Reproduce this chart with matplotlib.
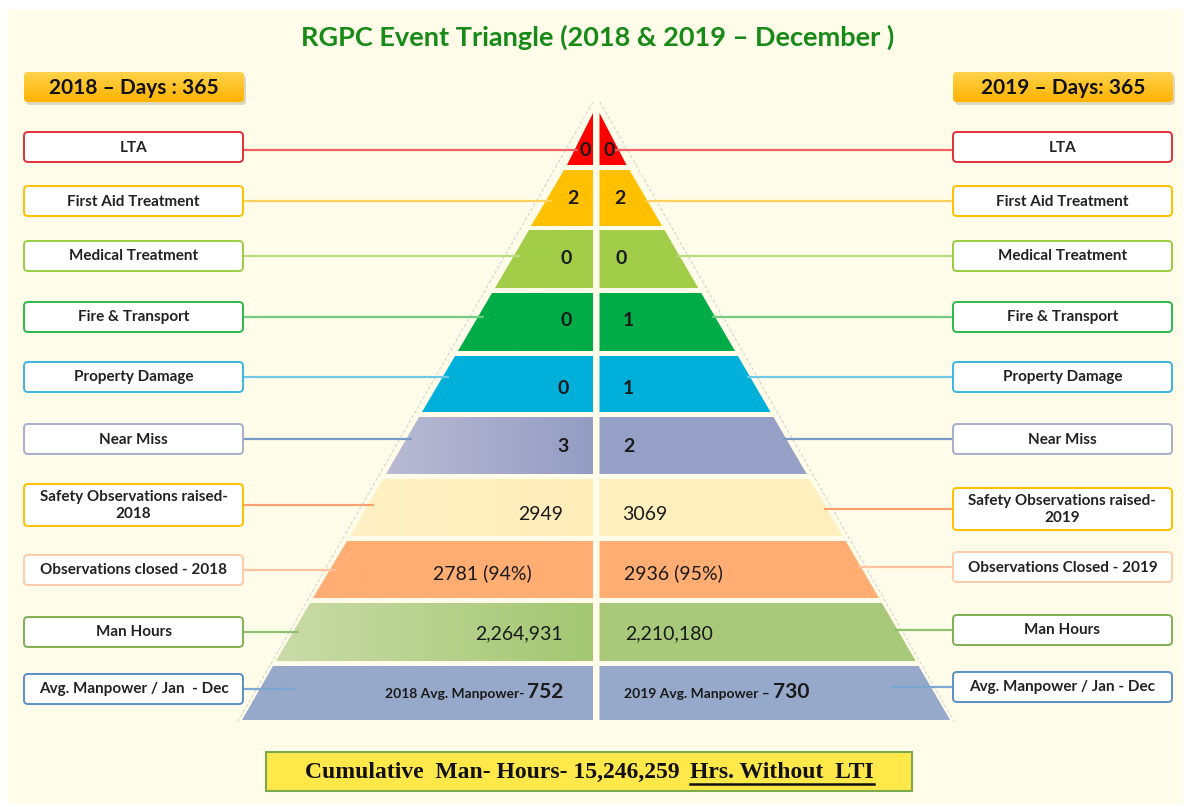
import matplotlib
matplotlib.use("Agg")
import matplotlib.pyplot as plt
from matplotlib.patches import Polygon, FancyBboxPatch, Rectangle
import matplotlib.colors as mcolors
import numpy as np

# ---------------- data ----------------
title = "RGPC Event Triangle (2018 & 2019 \u2013 December )"
header_2018 = "2018 \u2013 Days : 365"
header_2019 = "2019 \u2013 Days: 365"
labels_2018 = ["LTA", "First Aid Treatment", "Medical Treatment", "Fire & Transport",
               "Property Damage", "Near Miss", "Safety Observations raised-\n2018",
               "Observations closed - 2018", "Man Hours", "Avg. Manpower / Jan  - Dec"]
labels_2019 = ["LTA", "First Aid Treatment", "Medical Treatment", "Fire & Transport",
               "Property Damage", "Near Miss", "Safety Observations raised-\n2019",
               "Observations Closed - 2019", "Man Hours", "Avg. Manpower / Jan - Dec"]
values_2018 = ["0", "2", "0", "0", "0", "3", "2949", "2781 (94%)", "2,264,931", "752"]
values_2019 = ["0", "2", "0", "1", "1", "2", "3069", "2936 (95%)", "2,210,180", "730"]
manpower_prefix_2018 = "2018 Avg. Manpower- "
manpower_prefix_2019 = "2019 Avg. Manpower \u2013 "
footer_main = "Cumulative  Man- Hours- 15,246,259"
footer_underlined = "Hrs. Without  LTI"

# band colours (left-start, left-end gradient; right)
band_left_c1 = ["#FF0000", "#FFC000", "#A2CD48", "#00AC47", "#00B0DA", "#B9BBD2", "#FFF1C4", "#FFAD72", "#CADBA8", "#97A9CB"]
band_left_c2 = ["#FF0000", "#FFC000", "#A2CD48", "#00AC47", "#00B0DA", "#949CC4", "#FFEDBA", "#FFAD72", "#A3C772", "#97A9CB"]
band_right = ["#FF0000", "#FFC000", "#A2CD48", "#00AC47", "#00B0DA", "#96A0C6", "#FFEFBE", "#FFAD72", "#A8C97A", "#97A9CB"]
border_colors = ["#E0303A", "#FFC000", "#9BCB45", "#2DB84B", "#3BB5E0", "#A6AECC", "#FFC000", "#FFCBAA", "#7FB052", "#5B8FC4"]
line_colors = ["#F06060", "#FFD060", "#B8DC80", "#70CC80", "#70C8E8", "#7898C8", "#FFA070", "#FFC0A0", "#90C070", "#7AA8D0"]

# ---------------- layout ----------------
W, H = 1189, 807
fig = plt.figure(figsize=(W / 100, H / 100), dpi=100)
fig.patch.set_facecolor("white")
ax = fig.add_axes([0, 0, 1, 1])
ax.set_xlim(0, W)
ax.set_ylim(H, 0)
ax.axis("off")

FONT = ["Lato", "DejaVu Sans"]
SERIF = ["Liberation Serif", "DejaVu Serif"]

ax.add_patch(Rectangle((8, 9), 1175, 795, facecolor="#FFFDE9", edgecolor="none", zorder=0))

ax.text(598, 37, title, ha="center", va="center", fontsize=19.5, fontweight="bold",
        color="#178A17", family=FONT)


def gradient_fill(patch, c1, c2, horizontal=True, zorder=2):
    ax.add_patch(patch)
    patch.set_facecolor("none")
    patch.set_zorder(zorder + 0.1)
    x0, y0, x1, y1 = patch.get_path().get_extents(patch.get_transform() - ax.transData).extents
    a = np.array(mcolors.to_rgb(c1))
    b = np.array(mcolors.to_rgb(c2))
    t = np.linspace(0, 1, 256)
    grad = a[None, :] * (1 - t[:, None]) + b[None, :] * t[:, None]
    img = grad[None, :, :] if horizontal else grad[:, None, :]
    im = ax.imshow(img, extent=(x0, x1, y1, y0), origin="upper", aspect="auto",
                   interpolation="bilinear", zorder=zorder)
    im.set_clip_path(patch)


# header boxes
for (hx, htxt) in [(24, header_2018), (953, header_2019)]:
    shadow = FancyBboxPatch((hx + 2, 75), 220, 30, boxstyle="round,pad=0,rounding_size=4",
                            facecolor="#C8C0A0", edgecolor="none", alpha=0.6, zorder=1)
    ax.add_patch(shadow)
    hb = FancyBboxPatch((hx, 72), 220, 30, boxstyle="round,pad=0,rounding_size=4",
                        edgecolor="none", linewidth=0)
    gradient_fill(hb, "#FFD24C", "#FFB300", horizontal=False, zorder=2)
    ax.text(hx + 110, 87.5, htxt, ha="center", va="center", fontsize=15, fontweight="bold",
            color="#111111", family=FONT, zorder=4)

# pyramid geometry
ref_y = 351.0
ref_xl, ref_xr = 458.0, 735.0
slope_l, slope_r = 0.586, 0.583
gap_l, gap_r = 593.0, 599.5
band_top = [113, 170, 230, 293, 356, 417, 479, 541, 603, 666]
band_bot = [165, 226, 288, 351, 412, 474, 536, 598, 661, 720]


def xl(y):
    return ref_xl - (y - ref_y) * slope_l


def xr(y):
    return ref_xr + (y - ref_y) * slope_r


# faint guide lines along the sides
ax.plot([593, xl(722) - 3], [102, 722], color="#D5D5D0", lw=0.8, ls=(0, (3, 2)), zorder=1)
ax.plot([600, xr(722) + 3], [102, 722], color="#D5D5D0", lw=0.8, ls=(0, (3, 2)), zorder=1)

for i in range(len(values_2018)):
    t, b = band_top[i], band_bot[i]
    if i == 0:
        lpoly = Polygon([(gap_l, t), (gap_l, b), (xl(b), b)], closed=True, edgecolor="none")
        rpoly = Polygon([(gap_r, t), (xr(b), b), (gap_r, b)], closed=True,
                        facecolor=band_right[i], edgecolor="none", zorder=2)
    else:
        lpoly = Polygon([(xl(t), t), (gap_l, t), (gap_l, b), (xl(b), b)], closed=True, edgecolor="none")
        rpoly = Polygon([(gap_r, t), (xr(t), t), (xr(b), b), (gap_r, b)], closed=True,
                        facecolor=band_right[i], edgecolor="none", zorder=2)
    gradient_fill(lpoly, band_left_c1[i], band_left_c2[i], horizontal=True, zorder=2)
    ax.add_patch(rpoly)

# label boxes and connectors
box_y_left = [147, 201, 256, 317, 377, 439, 505, 570, 632, 689]
box_y_right = [147, 201, 256, 317, 377, 439, 509, 567, 630, 687]
box_w = 219
for i in range(len(labels_2018)):
    h = 42 if "\n" in labels_2018[i] else 30
    for bx, by, lab in [(24, box_y_left[i], labels_2018[i]), (953, box_y_right[i], labels_2019[i])]:
        bp = FancyBboxPatch((bx, by - h / 2), box_w, h, boxstyle="round,pad=0,rounding_size=4",
                            facecolor="white", edgecolor=border_colors[i], linewidth=1.4, zorder=3)
        ax.add_patch(bp)
        ax.text(bx + box_w / 2, by + 0.5, lab, ha="center", va="center", fontsize=11,
                fontweight="bold", color="#222222", family=FONT, zorder=4, linespacing=1.3)
    yl = box_y_left[i] + (3 if i == 0 else 0)
    yr = box_y_right[i] + (3 if i == 0 else 0)
    ax.plot([24 + box_w, xl(yl) + (2 if i == 0 else (6 if i < 9 else 35))], [yl, yl],
            color=line_colors[i], lw=1.6, zorder=2.5, solid_capstyle="butt")
    ax.plot([xr(yr) - (3 if i < 9 else 40), 953], [yr, yr], color=line_colors[i], lw=1.6,
            zorder=2.5, solid_capstyle="butt")

# value labels
val_y = [151, 199, 259, 320, 388, 447, 515, 573, 634, 692]
val_x_left = [591, 578, 572, 572, 569, 569, 563, 532, 563, 563]
val_x_right = [603, 614, 616, 623, 623, 623, 622, 624, 625, 624]
for i in range(len(values_2018) - 1):
    ax.text(val_x_left[i], val_y[i], values_2018[i], ha="right", va="center", fontsize=14,
            fontweight="bold" if i < 6 else "normal", color="#1A1A1A", family=FONT, zorder=5)
    ax.text(val_x_right[i], val_y[i], values_2019[i], ha="left", va="center", fontsize=14,
            fontweight="bold" if i < 6 else "normal", color="#1A1A1A", family=FONT, zorder=5)

# avg manpower row
fig.canvas.draw()
renderer = fig.canvas.get_renderer()
inv = ax.transData.inverted()
i = len(values_2018) - 1
base_y = val_y[i] + 6
tv = ax.text(val_x_left[i], base_y, values_2018[i], ha="right", va="baseline", fontsize=15,
             fontweight="bold", color="#1A1A1A", family=FONT, zorder=5)
bb = tv.get_window_extent(renderer)
left_edge = inv.transform((bb.x0, bb.y0))[0]
ax.text(left_edge - 2, base_y, manpower_prefix_2018.strip(), ha="right", va="baseline", fontsize=10,
        fontweight="bold", color="#1A1A1A", family=FONT, zorder=5)
tp = ax.text(val_x_right[i], base_y, manpower_prefix_2019, ha="left", va="baseline", fontsize=10,
             fontweight="bold", color="#1A1A1A", family=FONT, zorder=5)
bb = tp.get_window_extent(renderer)
right_edge = inv.transform((bb.x1, bb.y0))[0]
ax.text(right_edge, base_y, values_2019[i], ha="left", va="baseline", fontsize=15,
        fontweight="bold", color="#1A1A1A", family=FONT, zorder=5)

# footer box
ax.add_patch(Rectangle((266, 752), 646, 39, facecolor="#FFE84A", edgecolor="#7AAA4A", linewidth=1.5, zorder=3))
f1 = ax.text(680, 772, footer_main, ha="right", va="center", fontsize=17, fontweight="bold",
             color="#111111", family=SERIF, zorder=4)
f2 = ax.text(690, 772, footer_underlined, ha="left", va="center", fontsize=17, fontweight="bold",
             color="#111111", family=SERIF, zorder=4)
bb = f2.get_window_extent(renderer)
(ux0, _), (ux1, _) = inv.transform((bb.x0, bb.y0)), inv.transform((bb.x1, bb.y0))
ax.plot([ux0, ux1], [783.5, 783.5], color="#111111", lw=1.8, zorder=4)

fig.savefig("out.png", dpi=100, facecolor="white")
